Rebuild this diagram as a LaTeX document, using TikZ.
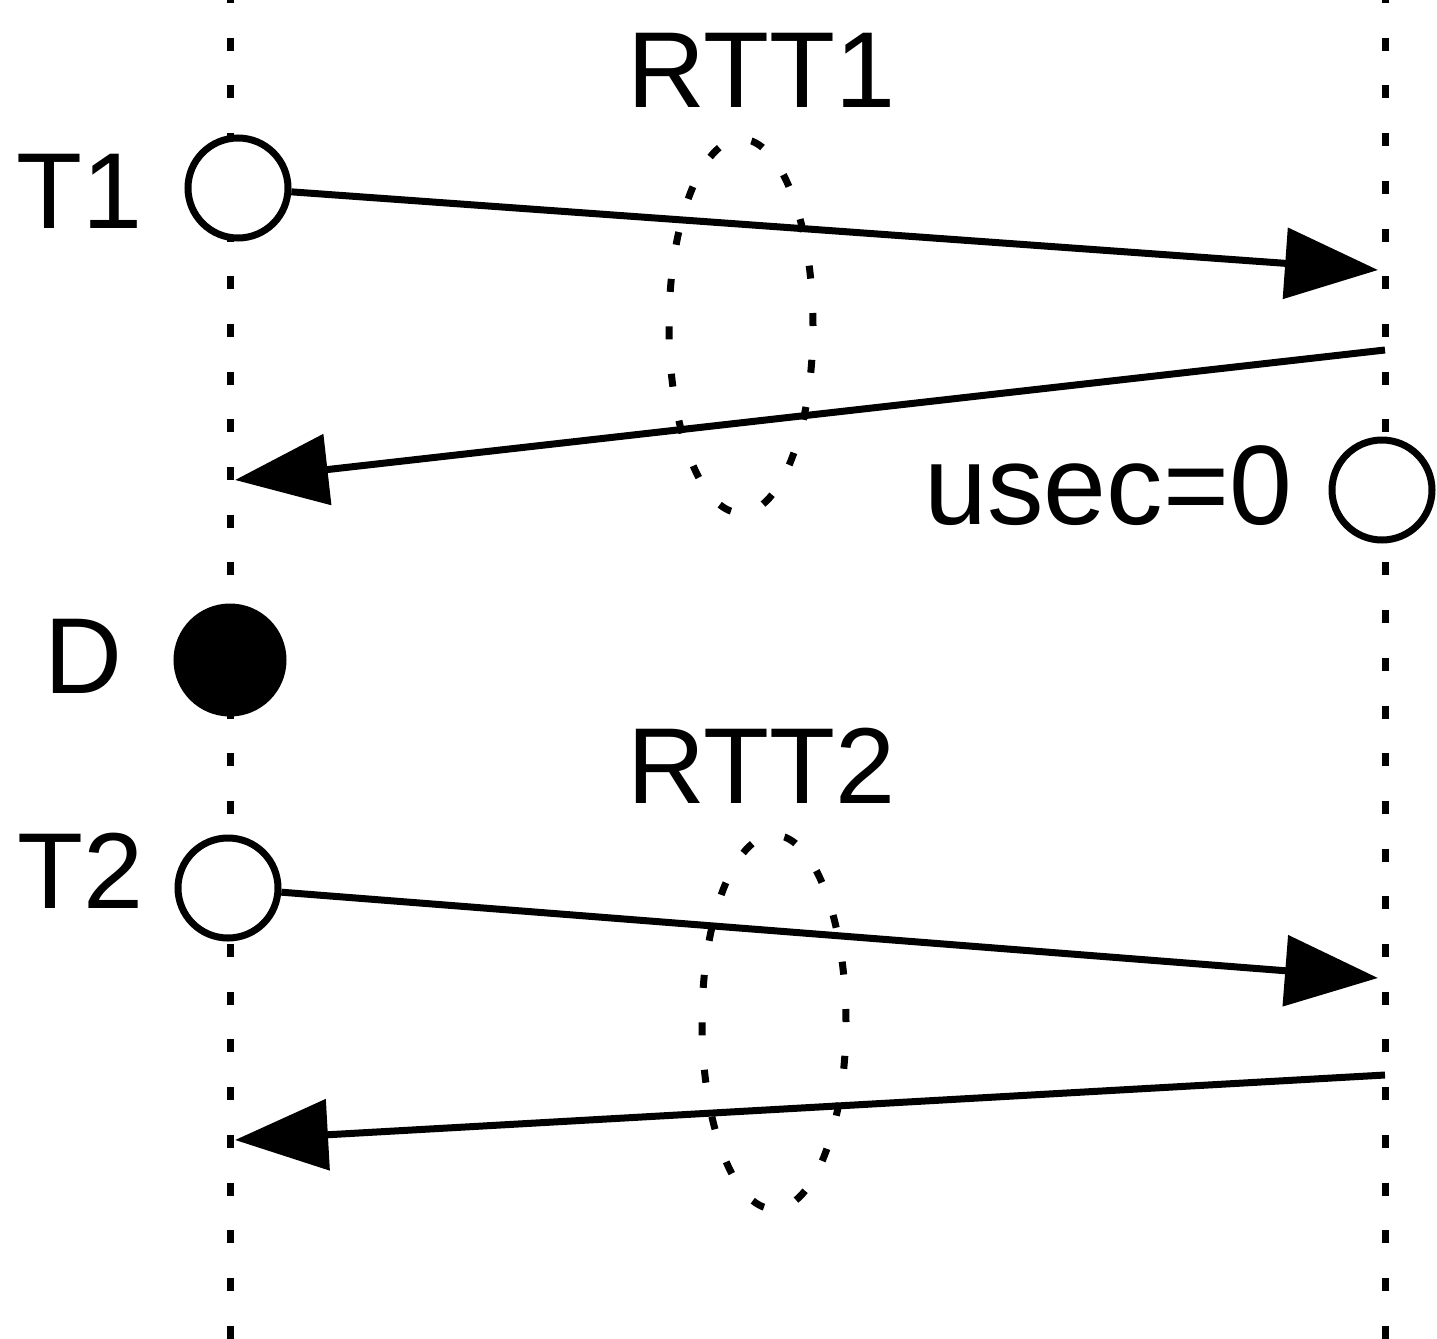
\documentclass[tikz,border=0pt]{standalone}
\usepackage{fontspec}
\setmainfont{Liberation Sans}
\usetikzlibrary{arrows.meta,shapes.geometric}
\begin{document}
\begin{tikzpicture}[x=0.5pt,y=-0.5pt,
  lbl/.style={anchor=base west, inner sep=0pt, font=\fontsize{54pt}{60pt}\selectfont},
  lifeline/.style={line width=3.5pt, dash pattern=on 6.5pt off 17.35pt},
  evt/.style={circle, draw, line width=3.5pt, fill=white, minimum size=50pt, inner sep=0pt},
  dropev/.style={circle, draw, line width=3.5pt, fill=black, minimum size=53pt, inner sep=0pt},
  rttloop/.style={ellipse, draw, line width=3.5pt, dash pattern=on 6.5pt off 17.25pt, minimum width=72pt, minimum height=187pt, inner sep=0pt},
  msg/.style={line width=3.5pt, -{Triangle[length=46.5pt,width=35pt]}}]
\path[use as bounding box] (0,0) rectangle (1437,1339);
\clip (0,0) rectangle (1437,1339);

% lifelines
\coordinate (ltop) at (230,-10);
\coordinate (lbot) at (230,1360);
\coordinate (rtop) at (1385,-10);
\coordinate (rbot) at (1385,1360);
\draw[lifeline] (ltop) -- (lbot);
\draw[lifeline] (rtop) -- (rbot);

% RTT loops
\node[rttloop] (E1) at (741,326) {};
\node[rttloop] (E2) at (774,1022) {};

% message end points on the lifelines
\coordinate (a1) at (1378,270);
\coordinate (b1) at (1385,350);
\coordinate (c1) at (235,480);
\coordinate (a2) at (1378,978);
\coordinate (b2) at (1385,1075);
\coordinate (c2) at (235,1140);

% events
\node[evt] (T1) at (238,188) {};
\node[evt] (U0) at (1382,490) {};
\node[dropev] (D) at (230,660) {};
\node[evt] (T2) at (228,888) {};

% messages
\draw[msg] (T1) -- (a1);
\draw[msg] (b1) -- (c1);
\draw[msg] (T2) -- (a2);
\draw[msg] (b2) -- (c2);

% labels
\node[lbl] (lT1) at (16,228) {T1};
\node[lbl] (lR1) at (627,107) {RTT1};
\node[lbl, font=\fontsize{56.5pt}{60pt}\selectfont] (lU) at (924,524) {usec=0};
\node[lbl] (lD) at (44,693) {D};
\node[lbl] (lT2) at (17,908) {T2};
\node[lbl] (lR2) at (627,803) {RTT2};
\end{tikzpicture}
\end{document}
